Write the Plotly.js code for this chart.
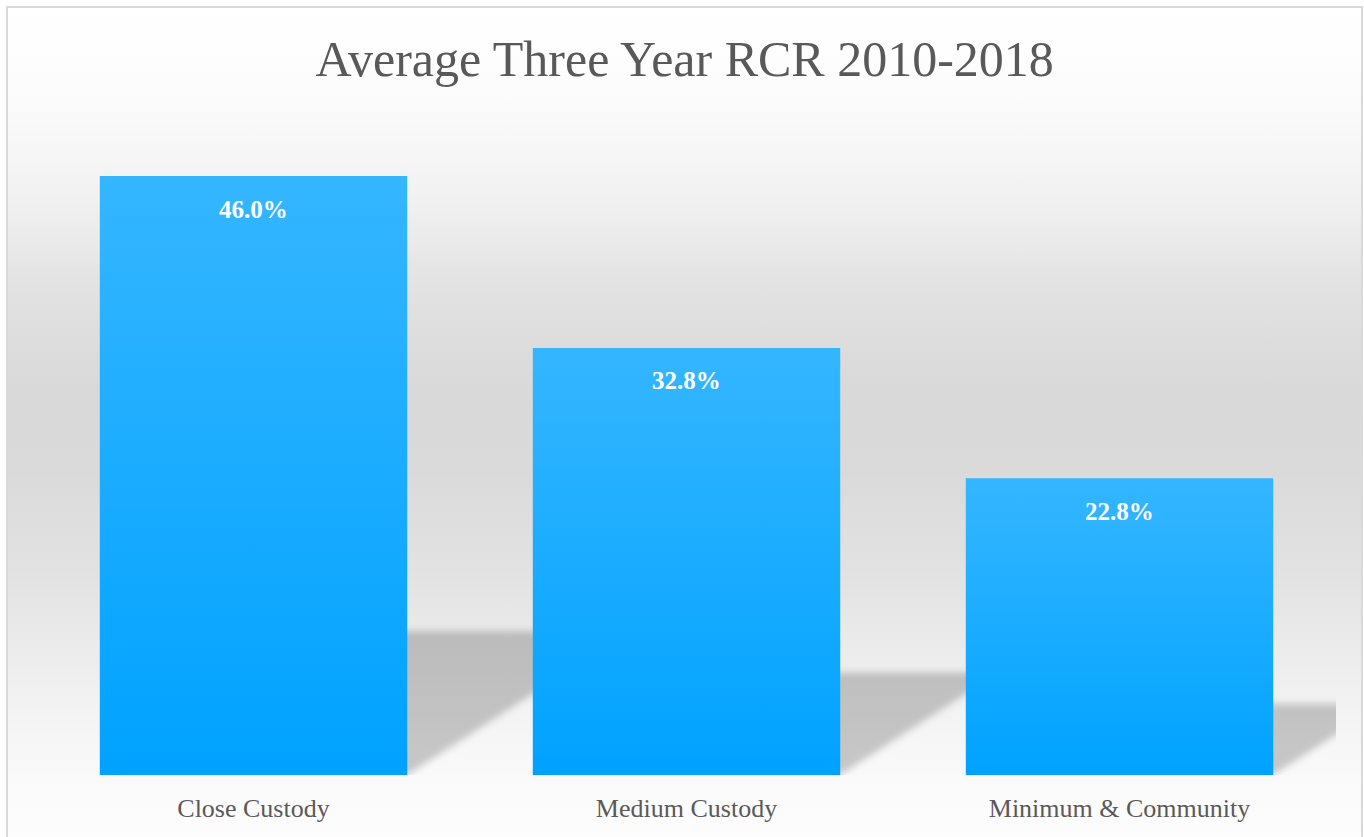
<!DOCTYPE html>
<html>
<head>
<meta charset="utf-8">
<script src="https://cdn.plot.ly/plotly-3.0.1.min.js"></script>
<style>
  html, body { margin:0; padding:0; width:1364px; height:837px; overflow:hidden; background:#ffffff; }
  #frame {
    position:absolute; left:6px; top:6px; width:1357px; height:831px; box-sizing:border-box;
    border:2px solid #d9d9d9; border-bottom:none;
    background: linear-gradient(to bottom,
      #ffffff 0%, #fcfcfc 10%, #f2f2f2 22%, #e2e2e2 34%, #d9d9d9 46%,
      #dadada 56%, #e2e2e2 68%, #ebebeb 77%, #f3f3f3 85%, #fafafa 93%, #fdfdfd 100%);
  }
  #chart { position:absolute; left:0; top:0; width:1364px; height:837px; }
</style>
</head>
<body>
<div id="frame"></div>
<div id="chart"></div>
<script>
const categories = ['Close Custody', 'Medium Custody', 'Minimum & Community'];
const values = [46.0, 32.8, 22.8];
const valueLabels = ['46.0%', '32.8%', '22.8%'];
const chartTitle = 'Average Three Year RCR 2010-2018';

const W = 1364, H = 837;
const margin = {l: 37, r: 28, t: 124, b: 62};
const yMax = 50;
const bargap = 0.29;
const plotW = W - margin.l - margin.r;
const plotH = H - margin.t - margin.b;
const pxPerY = plotH / yMax;
const pxPerX = plotW / categories.length;
const half = (1 - bargap) / 2;

// perspective shadows derived from the data values
const shapes = values.map((v, i) => {
  const h = 0.24 * v;
  const dx = 1.55 * h * pxPerY / pxPerX;
  const xl = i - half, xr = i + half;
  return {
    type: 'path', xref: 'x', yref: 'y', layer: 'below',
    path: `M ${xl},0 L ${xr},0 L ${xr + dx},${h} L ${xl + dx},${h} Z`,
    fillcolor: 'rgba(0,0,0,0.2)', line: {width: 0}
  };
});

const annotations = values.map((v, i) => ({
  x: categories[i], y: v, xref: 'x', yref: 'y',
  text: valueLabels[i], showarrow: false,
  yanchor: 'middle', yshift: -33,
  font: {family: 'Liberation Serif, serif', size: 25, color: '#ffffff', weight: 'bold'}
}));

const trace = {
  type: 'bar', x: categories, y: values,
  marker: {color: '#1aabff', line: {width: 0}},
  hoverinfo: 'none'
};

const layout = {
  width: W, height: H, margin: margin,
  paper_bgcolor: 'rgba(0,0,0,0)', plot_bgcolor: 'rgba(0,0,0,0)',
  bargap: bargap,
  showlegend: false,
  title: {
    text: chartTitle, x: 0.502, xanchor: 'center', yref: 'container', y: 0.93, yanchor: 'middle',
    font: {family: 'Liberation Serif, serif', size: 50, color: '#595959'}
  },
  xaxis: {
    type: 'category', range: [-0.5, categories.length - 0.5], autorange: false,
    showgrid: false, zeroline: false, showline: false,
    ticks: 'outside', ticklen: 10, tickcolor: 'rgba(0,0,0,0)',
    tickfont: {family: 'Liberation Serif, serif', size: 26, color: '#595959'}
  },
  yaxis: {range: [0, yMax], autorange: false, visible: false, showgrid: false, zeroline: false},
  shapes: shapes,
  annotations: annotations
};

Plotly.newPlot('chart', [trace], layout, {displayModeBar: false, staticPlot: true}).then(gd => {
  const svgNS = 'http://www.w3.org/2000/svg';
  const svg = gd.querySelector('svg.main-svg');
  let defs = svg.querySelector('defs');
  if (!defs) { defs = document.createElementNS(svgNS, 'defs'); svg.insertBefore(defs, svg.firstChild); }
  const grad = document.createElementNS(svgNS, 'linearGradient');
  grad.setAttribute('id', 'barGrad');
  grad.setAttribute('x1', '0'); grad.setAttribute('y1', '0');
  grad.setAttribute('x2', '0'); grad.setAttribute('y2', '1');
  [['0', '#35b6ff'], ['1', '#00a2ff']].forEach(([o, c]) => {
    const s = document.createElementNS(svgNS, 'stop');
    s.setAttribute('offset', o); s.setAttribute('stop-color', c);
    grad.appendChild(s);
  });
  defs.appendChild(grad);
  const filt = document.createElementNS(svgNS, 'filter');
  filt.setAttribute('id', 'shBlur');
  filt.setAttribute('x', '-20%'); filt.setAttribute('y', '-20%');
  filt.setAttribute('width', '140%'); filt.setAttribute('height', '140%');
  const blur = document.createElementNS(svgNS, 'feGaussianBlur');
  blur.setAttribute('stdDeviation', '3.5');
  filt.appendChild(blur);
  defs.appendChild(filt);
  gd.querySelectorAll('.barlayer .point path').forEach(p => { p.style.fill = 'url(#barGrad)'; });
  gd.querySelectorAll('.shapelayer path').forEach(p => { p.setAttribute('filter', 'url(#shBlur)'); });
});
</script>
</body>
</html>
